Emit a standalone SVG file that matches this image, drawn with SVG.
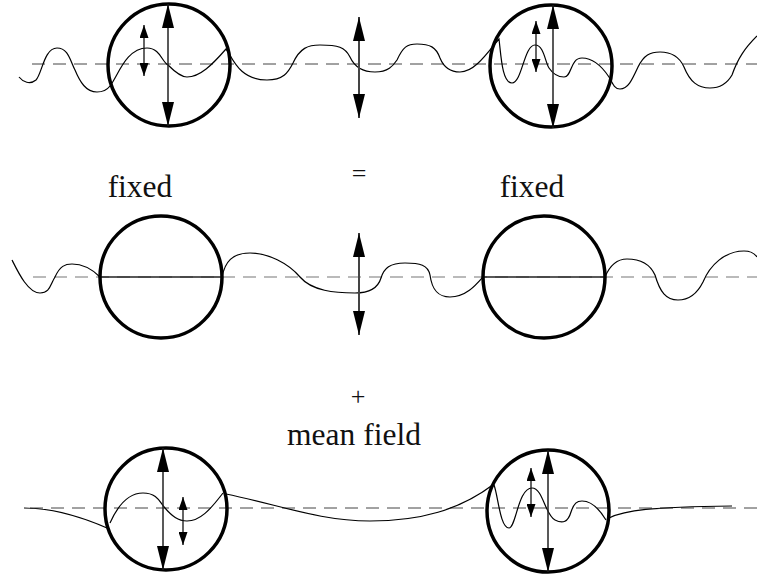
<svg xmlns="http://www.w3.org/2000/svg" width="757" height="579" viewBox="0 0 757 579">
<style>
.bg{fill:#fff}
.dash{fill:none;stroke:#444;stroke-width:1;stroke-dasharray:13 8}
.dashm{fill:none;stroke:#777;stroke-width:1.2;stroke-dasharray:13 8}
.wave{fill:none;stroke:#000;stroke-width:1.2}
.flat{fill:none;stroke:#222;stroke-width:1.5}
.ring{fill:none;stroke:#000;stroke-width:3.5}
.big{stroke:#222;stroke-width:1.5;marker-start:url(#hb);marker-end:url(#hb)}
.sml{stroke:#111;stroke-width:1.3;marker-start:url(#hs);marker-end:url(#hs)}
.mid{stroke:#444;stroke-width:2;marker-start:url(#hb);marker-end:url(#hb)}
.lbl{font-family:"Liberation Serif","DejaVu Serif",serif;font-size:31.5px;fill:#111;text-anchor:middle}
.op{font-family:"Liberation Serif","DejaVu Serif",serif;font-size:26px;fill:#111;text-anchor:middle}
</style>
<defs>
<marker id="hb" markerUnits="userSpaceOnUse" viewBox="0 0 24 12" markerWidth="24" markerHeight="12" refX="24" refY="6" orient="auto-start-reverse"><path d="M0,0 L24,6 L0,12 Z" fill="#000"/></marker>
<marker id="hs" markerUnits="userSpaceOnUse" viewBox="0 0 13 9" markerWidth="13" markerHeight="9" refX="13" refY="4.5" orient="auto-start-reverse"><path d="M0,0 L13,4.5 L0,9 Z" fill="#000"/></marker>
</defs>
<rect class="bg" x="0" y="0" width="757" height="579"/>
<g id="axes">
<path class="dash" d="M32,64 H757"/>
<path class="dashm" d="M33,277 H757"/>
<path class="dash" d="M30,508 H757"/>
</g>
<g id="waves">
<path class="wave" d="M19,77 C23,82 30,85 36,80 C42,74 44,48 57,48 C68,48 70,60 75,70 C80,82 86,92 97,92 C103,92 107,90 110,86 C118,76 126,48 147,48 C160,48 162,62 168,65 C173,70 180,77 187,77 C200,77 212,65 226,49 C232,56 238,80 267,80 C283,80 288,73 293,63 C300,48 308,45 320,45 C338,45 345,47 350,57 C355,68 365,72 375,72 C388,72 393,66 397,60 C403,47 407,44 417,44 C430,44 436,47 440,58 C444,68 450,72 460,72 C475,72 488,52 499,39 C501,55 502,83 512,83 C522,83 524,45 535,45 C544,45 545,62 549,68 C553,74 558,77 564,77 C572,77 570,58 582,58 C594,58 603,68 609,77 C612,82 614,89 620,89 C628,89 632,80 638,67 C644,55 650,52 660,52 C672,52 680,58 684,67 C690,82 698,88 710,88 C722,88 728,82 732,75 C738,58 745,48 757,36"/>
<path class="wave" d="M12,260 C18,272 28,293 40,293 C50,293 50,285 55,277 C60,266 65,264 72,264 C84,264 93,270 100,277"/>
<path class="flat" d="M100,277 H222"/>
<path class="wave" d="M222,277 C225,262 232,253 250,253 C268,253 288,263 300,277 C312,291 335,293 355,293 C370,293 378,288 381,278 C384,268 390,263 405,263 C420,263 428,265 430,275 C432,290 438,297 450,297 C466,297 476,285 483,277"/>
<path class="flat" d="M483,277 H605"/>
<path class="wave" d="M605,277 C610,265 618,259 627,259 C640,259 650,264 655,275 C660,292 666,300 678,300 C690,300 698,292 703,282 C710,265 725,251 744,251 C750,251 755,254 757,257"/>
<path class="wave" d="M24,508 C45,508 70,512 107,528"/>
<path class="wave" d="M110,523 C118,505 128,493 143,493 C158,493 160,503 165,508 C172,516 178,521 187,521 C200,521 210,510 223,493"/>
<path class="wave" d="M226,494 C280,505 320,521 370,521 C420,521 460,510 494,484"/>
<path class="wave" d="M494,485 C498,495 500,528 509,528 C516,528 518,488 532,488 C543,488 545,515 555,520 C563,524 568,522 571,512 C574,503 577,501 582,501 C592,501 600,510 606,520"/>
<path class="wave" d="M609,518 C625,510 650,507 732,506"/>
</g>
<g id="node-top-left"><circle class="ring" cx="169" cy="65" r="61"/></g>
<g id="node-top-right"><circle class="ring" cx="551" cy="66" r="61"/></g>
<g id="node-mid-left"><circle class="ring" cx="161" cy="277" r="61"/></g>
<g id="node-mid-right"><circle class="ring" cx="544" cy="277" r="61"/></g>
<g id="node-bot-left"><circle class="ring" cx="166" cy="509" r="61"/></g>
<g id="node-bot-right"><circle class="ring" cx="548" cy="511" r="61"/></g>
<g id="connectors">
<line class="big" x1="168" y1="4" x2="168" y2="126"/>
<line class="sml" x1="144" y1="25" x2="144" y2="76"/>
<line class="mid" x1="359" y1="17" x2="359" y2="118"/>
<line class="big" x1="553" y1="5" x2="553" y2="128"/>
<line class="sml" x1="536" y1="21" x2="536" y2="72"/>
<line class="mid" x1="359" y1="233" x2="359" y2="335"/>
<line class="big" x1="163" y1="448" x2="163" y2="570"/>
<line class="sml" x1="183" y1="497" x2="183" y2="545"/>
<line class="big" x1="548" y1="450" x2="548" y2="572"/>
<line class="sml" x1="531" y1="468" x2="531" y2="517"/>
</g>
<g id="labels">
<text class="lbl" x="140" y="197">fixed</text>
<text class="lbl" x="532" y="197">fixed</text>
<text class="lbl" x="354" y="445">mean field</text>
<text class="op" x="359" y="182">=</text>
<text class="op" x="358" y="405">+</text>
</g>
</svg>
